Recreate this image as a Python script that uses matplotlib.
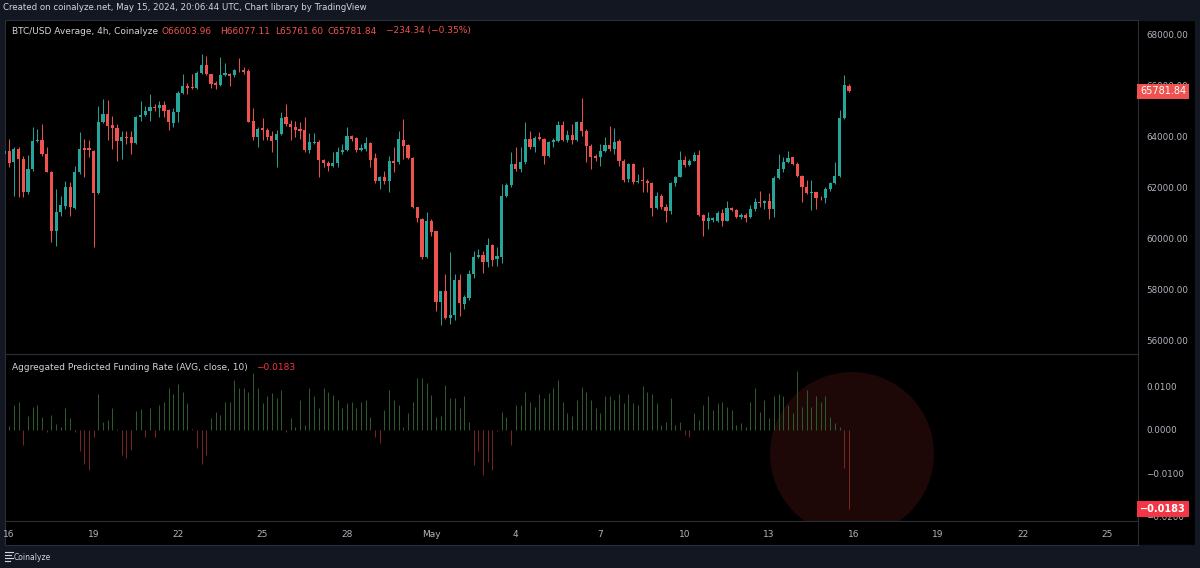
import numpy as np
import pandas as pd
import matplotlib
matplotlib.use('Agg')
import matplotlib.pyplot as plt
import matplotlib.dates as mdates
from matplotlib.patches import Rectangle, Ellipse
from matplotlib.lines import Line2D
from matplotlib.transforms import blended_transform_factory

W, H = 1200, 568

# 4h candles, first one at 2024-04-15 20:00 UTC
start = '2024-04-15 20:00'

opens = [63321, 63452, 62995, 63517, 63125, 61818, 62733, 63818, 63870, 63321,
         62628, 60315, 61034, 61296, 62014, 61204, 62602, 63543, 63543, 63452,
         61792, 64563, 64890, 64458, 64328, 63818, 63992, 63974, 63739, 64759,
         64863, 64994, 65190, 65125, 65256, 65046, 64524, 64955, 65713, 66001,
         65974, 65909, 66523, 66824, 66458, 66105, 66027, 66432, 66458, 66432,
         66628, 66615, 66589, 64628, 63975, 64327, 64262, 64040, 63870, 64105,
         64759, 64497, 64393, 64301, 64262, 63478, 63740, 63805, 63086, 62982,
         62864, 62982, 63387, 63478, 64040, 63935, 63478, 63517, 63752, 63151,
         62275, 62432, 62275, 63060, 62995, 63883, 63674, 63164, 61230, 60772,
         59270, 60707, 60289, 57505, 57935, 56891, 56982, 58355, 57439, 57675,
         58590, 59296, 59374, 59087, 59740, 59204, 59296, 61688, 62093, 62929,
         62720, 62995, 63909, 63609, 63974, 63909, 63256, 63805, 63844, 64471,
         63883, 64066, 63870, 64563, 64236, 63635, 63256, 63217, 63452, 63687,
         63517, 63844, 63060, 62341, 62929, 62210, 62290, 62275, 62171, 61191,
         61688, 61256, 61073, 62171, 62432, 63099, 62903, 63060, 63295, 60929,
         60707, 60733, 60707, 61021, 60707, 61191, 61125, 60838, 60942, 60838,
         61165, 61426, 61400, 61478, 61165, 62380, 62733, 63021, 63191, 62929,
         62471, 62040, 61779, 61818, 61608, 61583, 61949, 62171, 62471, 64720,
         66003.96]

highs = [63517, 63909, 63583, 63608, 63256, 63282, 64367, 64301, 64497, 63582,
         62668, 61949, 61688, 62275, 62210, 62864, 64171, 63909, 63870, 63500,
         65217, 65478, 65439, 64824, 64497, 64236, 64236, 64236, 64824, 65413,
         65217, 65674, 65282, 65413, 65413, 65086, 65151, 65804, 66484, 66131,
         66484, 66589, 67268, 67177, 66484, 66197, 67138, 66915, 66523, 66654,
         67112, 66745, 66654, 65151, 64367, 64733, 64340, 64210, 64262, 64955,
         65308, 64654, 64628, 64563, 64785, 64131, 64131, 63870, 63125, 63060,
         63387, 63609, 63713, 64367, 64079, 63974, 63713, 63974, 63779, 63347,
         62471, 62641, 63256, 63609, 64210, 64693, 63713, 63191, 61256, 60812,
         61034, 60772, 60315, 57960, 58616, 59492, 58590, 58616, 57766, 58747,
         59505, 59596, 59505, 60027, 59792, 59662, 62145, 62171, 63387, 63609,
         63583, 64563, 64210, 64040, 64171, 63948, 63844, 63948, 64628, 64628,
         64262, 64497, 64602, 65517, 64301, 63713, 63321, 63700, 63974, 64432,
         64340, 63909, 63125, 62955, 62955, 62537, 62824, 62341, 62210, 61818,
         61753, 61361, 62210, 62471, 63452, 63256, 63125, 63387, 63478, 60969,
         61034, 60864, 61073, 61165, 61491, 61256, 61165, 60995, 60995, 61335,
         61596, 61883, 61517, 61779, 62471, 63321, 63191, 63452, 63217, 62995,
         62510, 62302, 62302, 61850, 61688, 62014, 62210, 62994, 65046, 66419,
         66077.11]

lows = [63256, 62799, 61688, 61622, 61622, 61753, 62668, 63779, 63256, 62602,
        59858, 59727, 60904, 61165, 60904, 61165, 62537, 62406, 63191, 59662,
        61753, 64560, 63870, 63517, 63034, 63125, 63713, 63321, 63713, 64628,
        64824, 64628, 65020, 64759, 64785, 64262, 64367, 64563, 65674, 65674,
        65870, 65880, 66484, 66432, 65935, 65870, 66001, 66393, 66001, 66354,
        66563, 66458, 64563, 63870, 63609, 63870, 63870, 63387, 62824, 64066,
        64432, 63870, 63975, 63909, 63387, 63347, 63713, 62406, 62824, 62641,
        62824, 62798, 63321, 63426, 63844, 63387, 63426, 63452, 62798, 62171,
        61949, 62145, 61818, 62602, 62929, 63125, 63125, 61204, 60642, 59204,
        59230, 60119, 57152, 56590, 56851, 56655, 56812, 56943, 57244, 57570,
        58459, 59244, 58642, 58877, 58943, 58904, 59034, 61622, 62014, 62641,
        62602, 62929, 63517, 63387, 63870, 62929, 63217, 63609, 63779, 63844,
        63779, 63713, 63844, 64040, 62995, 62733, 63060, 62864, 63400, 63452,
        63321, 62864, 62210, 62210, 62145, 62171, 61818, 61818, 60904, 61165,
        61165, 60642, 60969, 62079, 62406, 62798, 62864, 63034, 60904, 60119,
        60381, 60642, 60642, 60511, 60681, 61073, 60812, 60773, 60642, 60812,
        61100, 61230, 61165, 60773, 60838, 62341, 62602, 62955, 62903, 62432,
        61425, 61753, 61125, 61165, 61517, 61387, 61883, 62145, 62432, 64694,
        65761.60]

closes = [63452, 62955, 63517, 63125, 61818, 62733, 63844, 63883, 63321, 62628,
          60315, 61034, 61322, 62040, 61230, 62628, 63517, 63491, 63478, 61779,
          64563, 64890, 64432, 64328, 63818, 63975, 63948, 63739, 64759, 64863,
          64994, 65190, 65125, 65256, 65020, 64563, 64955, 65739, 66001, 65909,
          65909, 66523, 66824, 66458, 66092, 66027, 66419, 66497, 66406, 66615,
          66615, 66563, 64589, 63975, 64301, 64275, 64001, 63844, 64105, 64720,
          64497, 64393, 64262, 64236, 63478, 63778, 63805, 63086, 62982, 62864,
          62982, 63387, 63478, 64040, 63896, 63478, 63556, 63752, 63086, 62275,
          62432, 62275, 63060, 62982, 63909, 63648, 63164, 61230, 60798, 59270,
          60707, 60249, 57505, 57935, 56891, 56982, 58355, 57466, 57701, 58590,
          59296, 59374, 59087, 59766, 59165, 59322, 61688, 62119, 62929, 62720,
          62995, 63909, 63609, 63948, 63896, 63256, 63779, 63870, 64471, 63883,
          64066, 63870, 64563, 64210, 63635, 63191, 63164, 63452, 63687, 63517,
          63779, 63060, 62302, 62929, 62210, 62275, 62262, 62171, 61191, 61688,
          61230, 61073, 62171, 62432, 63099, 62903, 63060, 63295, 60929, 60707,
          60812, 60798, 61021, 60707, 61191, 61125, 60838, 60942, 60812, 61165,
          61426, 61400, 61478, 61165, 62380, 62733, 63021, 63164, 62929, 62471,
          62040, 61779, 61818, 61583, 61583, 61949, 62171, 62471, 64720, 66016,
          65781.84]

# aggregated predicted funding rate, one value per candle
funding = [0.0008, 0.0010, 0.0058, 0.0066, -0.0035, 0.0033, 0.0054, 0.0058, 0.0031, -0.0005,
           0.0036, 0.0013, 0.0008, 0.0052, 0.0027, -0.0004, -0.0050, -0.0078, -0.0093, -0.0016,
           0.0083, 0.0019, 0.0023, 0.0050, 0.0002, -0.0058, -0.0066, -0.0047, 0.0044, 0.0049,
           -0.0016, 0.0050, -0.0016, 0.0058, 0.0066, 0.0098, 0.0083, 0.0106, 0.0089, 0.0062,
           0.0002, -0.0043, -0.0078, -0.0058, 0.0027, 0.0043, 0.0035, 0.0066, 0.0066, 0.0116,
           0.0097, 0.0097, 0.0089, 0.0132, 0.0098, 0.0062, 0.0078, 0.0085, 0.0074, 0.0093,
           -0.0005, 0.0027, 0.0008, 0.0070, 0.0012, 0.0097, 0.0078, 0.0050, 0.0098, 0.0089,
           0.0081, 0.0070, 0.0050, 0.0062, 0.0066, 0.0050, 0.0066, 0.0070, 0.0031, -0.0016,
           -0.0031, 0.0047, 0.0093, 0.0070, 0.0058, 0.0008, 0.0039, 0.0066, 0.0120, 0.0122,
           0.0109, 0.0081, 0.0031, 0.0033, 0.0105, 0.0074, 0.0074, 0.0052, 0.0078, 0.0019,
           -0.0081, -0.0050, -0.0105, -0.0074, -0.0093, -0.0002, 0.0041, 0.0031, -0.0035, 0.0058,
           0.0058, 0.0089, 0.0066, 0.0054, 0.0083, 0.0074, 0.0085, 0.0097, 0.0116, 0.0066,
           0.0039, 0.0033, 0.0070, 0.0099, 0.0089, 0.0070, 0.0050, 0.0039, 0.0078, 0.0078,
           0.0070, 0.0083, 0.0062, 0.0083, 0.0062, 0.0057, 0.0103, 0.0088, 0.0083, 0.0062,
           0.0012, 0.0019, 0.0074, 0.0012, 0.0019, -0.0012, -0.0016, 0.0039, 0.0023, 0.0058,
           0.0078, 0.0047, 0.0062, 0.0066, 0.0054, 0.0047, 0.0012, 0.0016, 0.0008, 0.0066,
           0.0097, 0.0043, 0.0070, 0.0027, 0.0078, 0.0083, 0.0078, 0.0058, 0.0039, 0.0137,
           0.0054, 0.0093, 0.0054, 0.0078, 0.0066, 0.0078, 0.0031, 0.0016, 0.0008, -0.0089,
           -0.0183]

date_ticks = ['2024-04-16', '2024-04-19', '2024-04-22', '2024-04-25', '2024-04-28',
              '2024-05-01', '2024-05-04', '2024-05-07', '2024-05-10', '2024-05-13',
              '2024-05-16', '2024-05-19', '2024-05-22', '2024-05-25']
date_labels = ['16', '19', '22', '25', '28', 'May', '4', '7', '10', '13', '16', '19', '22', '25']
price_ticks = [56000, 58000, 60000, 62000, 64000, 66000, 68000]
funding_ticks = [0.01, 0.0, -0.01, -0.02]
funding_labels = ['0.0100', '0.0000', '\u22120.0100', '\u22120.0200']

UP = '#26a69a'
DN = '#ef5350'
GRID = '#2a2e39'
TXT = '#d1d4dc'
AXT = '#b2b5be'
NAVY = '#131722'

o = np.array(opens, dtype=float)
h = np.array(highs, dtype=float)
l = np.array(lows, dtype=float)
c = np.array(closes, dtype=float)
fr = np.array(funding)
t = mdates.date2num(pd.date_range(start, periods=len(c), freq='4h'))
t0 = t[0]


def box(x0, y0, x1, y1):
    return [x0 / W, 1 - y1 / H, (x1 - x0) / W, (y1 - y0) / H]


def ftext(x, y, s, color=TXT, size=6.5, **kw):
    fig.text(x / W, 1 - y / H, s, color=color, fontsize=size, va='center', ha='left', **kw)


fig = plt.figure(figsize=(W / 100, H / 100), dpi=100, facecolor='black')

# navy frame: header, footer, thin side strips
for x0, y0, x1, y1 in [(0, 0, W, 20), (0, 545, W, H), (0, 0, 5, H), (1195, 0, W, H)]:
    fig.patches.append(Rectangle((x0 / W, 1 - y1 / H), (x1 - x0) / W, (y1 - y0) / H,
                                 transform=fig.transFigure, color=NAVY, zorder=-5))

ax = fig.add_axes(box(5, 20, 1138, 354))
ax2 = fig.add_axes(box(5, 354, 1138, 521), sharex=ax)
axx = fig.add_axes(box(5, 521, 1138, 545), sharex=ax)

for a in (ax, ax2, axx):
    a.set_facecolor('black')
    for s in a.spines.values():
        s.set_color(GRID)
        s.set_linewidth(0.8)
    a.xaxis.set_visible(False)

# candles
col = np.where(c >= o, UP, DN)
ax.vlines(t, l, h, colors=col, linewidth=0.7, zorder=2)
body_lo = np.minimum(o, c)
body_h = np.maximum(np.abs(c - o), 25)
ax.bar(t, body_h, bottom=body_lo, width=4 / 24 * 0.68, color=col, linewidth=0, zorder=3)

ax.set_ylim(55466, 68589)
ax.yaxis.tick_right()
ax.set_yticks(price_ticks)
ax.set_yticklabels([f'{v:.2f}' for v in price_ticks])
ax.tick_params(axis='y', length=0, pad=6, labelsize=6.3, labelcolor=AXT)

# funding histogram
fcol = np.where(fr >= 0, '#2f5c2f', '#7a2626')
ax2.vlines(t, 0, fr, colors=fcol, linewidth=0.7, zorder=3)
circ = Ellipse((852 / W, 1 - 454 / H), 2 * 82 / W, 2 * 82 / H, transform=fig.transFigure,
               facecolor=(1, 0.24, 0.24), alpha=0.12, edgecolor='none', zorder=1)
ax2.add_patch(circ)
ax2.set_ylim(-0.02116, 0.01767)
ax2.yaxis.tick_right()
ax2.set_yticks(funding_ticks)
ax2.set_yticklabels(funding_labels)
ax2.tick_params(axis='y', length=0, pad=6, labelsize=6.3, labelcolor=AXT)

axx.set_yticks([])
axx.set_ylim(0, 1)
ax.set_xlim(t0 + 0.018, t0 + 40.27)
tr = blended_transform_factory(axx.transData, axx.transAxes)
for d, lab in zip(date_ticks, date_labels):
    axx.text(mdates.date2num(pd.Timestamp(d)), 0.45, lab, transform=tr, ha='center',
             va='center', fontsize=6.5, color=AXT)

# last value labels on the scales
ax.text(1.002, c[-1], f'{c[-1]:.2f}', transform=blended_transform_factory(ax.transAxes, ax.transData),
        ha='left', va='center', fontsize=7, color='white', clip_on=False,
        bbox=dict(boxstyle='square,pad=0.3', fc=DN, ec='none'), zorder=10)
ax2.text(1.002, fr[-1], '\u2212' + f'{abs(fr[-1]):.4f}',
         transform=blended_transform_factory(ax2.transAxes, ax2.transData),
         ha='left', va='center', fontsize=7, color='white', fontweight='bold', clip_on=False,
         bbox=dict(boxstyle='square,pad=0.3', fc='#f23645', ec='none'), zorder=10)

# header and legends
ftext(3, 8, 'Created on coinalyze.net, May 15, 2024, 20:06:44 UTC, Chart library by TradingView', size=6.2)
ftext(12, 31, 'BTC/USD Average, 4h, Coinalyze', color=TXT)
ftext(161, 31, 'O66003.96', color=DN)
ftext(220, 31, 'H66077.11', color=DN)
ftext(275, 31, 'L65761.60', color=DN)
ftext(328, 31, 'C65781.84', color=DN)
ftext(386, 31, '\u2212234.34 (\u22120.35%)', color=DN)
ftext(12, 367, 'Aggregated Predicted Funding Rate (AVG, close, 10)', color=TXT)
ftext(256, 367, '\u22120.0183', color='#f23645')

# footer logo
for y, x1 in [(552, 13), (555, 11), (558, 13), (561, 10)]:
    fig.add_artist(Line2D([5 / W, x1 / W], [1 - y / H, 1 - y / H], color=TXT, linewidth=0.8))
ftext(14, 557, 'Coinalyze', size=5.5)

fig.savefig('out.png', dpi=100, facecolor=fig.get_facecolor())
